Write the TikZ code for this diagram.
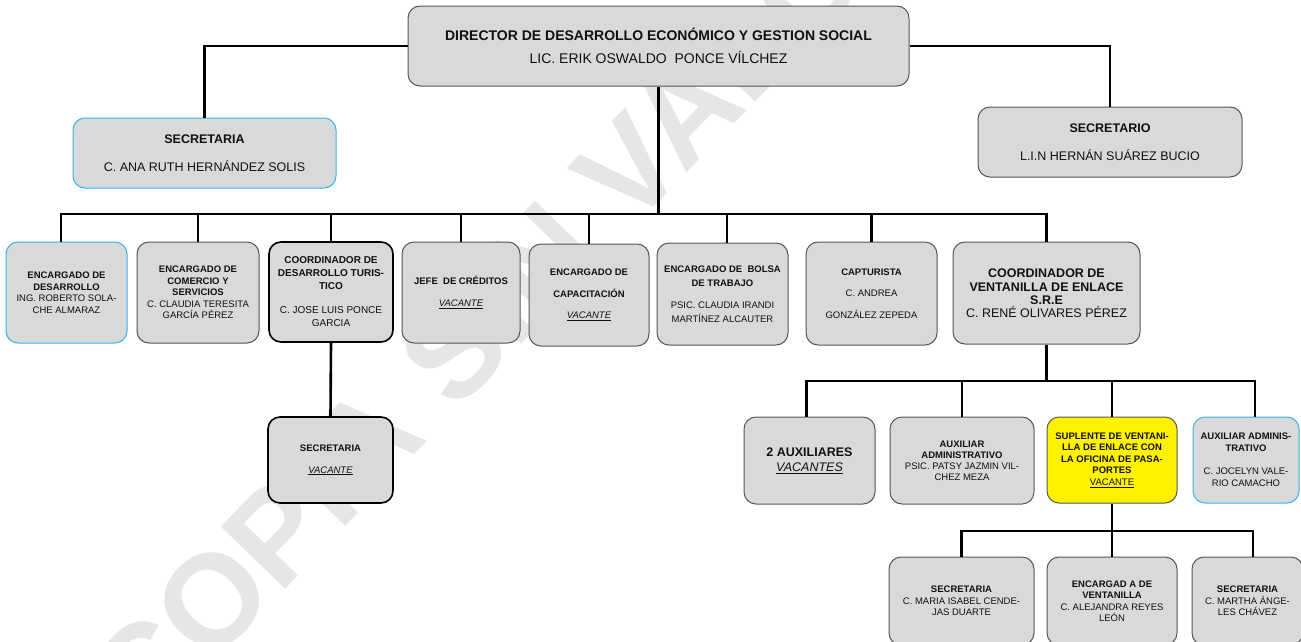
\documentclass[tikz,border=0pt]{standalone}
\usepackage{fontspec}
\setmainfont{Liberation Sans}
\definecolor{boxfill}{HTML}{D9D9D9}
\definecolor{boxline}{HTML}{555555}
\definecolor{bluebd}{HTML}{33B5E8}
\definecolor{wmark}{HTML}{E6E6E6}
\definecolor{txt}{HTML}{111111}
\newcommand{\fSm}{\fontsize{9.5}{11.5}\selectfont}
\newcommand{\fMd}{\fontsize{12.5}{14.5}\selectfont}
\newcommand{\vac}{\underline{\textit{VACANTE}}}
\newcommand{\tb}[1]{\textbf{#1}}
\tikzset{
  box/.style={draw=boxline, line width=1pt, fill=boxfill, rounded corners=12pt,
    align=center, inner sep=1pt, text=txt, font=\fSm},
  bluebox/.style={box, draw=bluebd},
  darkbox/.style={box, draw=black, line width=1.6pt},
  yelbox/.style={box, fill=yellow},
  conn/.style={line width=2.6pt, draw=black},
}
\begin{document}
\begin{tikzpicture}[x=1pt,y=-1pt]
\useasboundingbox (0,0) rectangle (1301,641);
% watermark
\node[text=wmark, rotate=46, font=\fontsize{130}{130}\selectfont\bfseries] (wm) at (510,292) {COPIA SIN VALOR};

% top
\node[box, minimum width=501, minimum height=80, font=\fontsize{14}{16}\selectfont] (top) at (658.5,46)
  {\tb{DIRECTOR DE DESARROLLO ECONÓMICO Y GESTION SOCIAL}\\[7pt]
   LIC. ERIK OSWALDO\ \ PONCE VÍLCHEZ};
\node[bluebox, minimum width=263, minimum height=70, font=\fMd] (sec1) at (204.5,153)
  {\tb{SECRETARIA}\\[14pt]C. ANA RUTH HERNÁNDEZ SOLIS};
\node[box, minimum width=264, minimum height=70, font=\fMd] (sec2) at (1110,142)
  {\tb{SECRETARIO}\\[13pt]L.I.N HERNÁN SUÁREZ BUCIO};

% row 1
\node[bluebox, minimum width=121, minimum height=101] (b1) at (66.5,292.5)
  {\tb{ENCARGADO DE}\\\tb{DESARROLLO}\\ING. ROBERTO SOLA-\\CHE ALMARAZ};
\node[box, minimum width=122, minimum height=101] (b2) at (198,292.5)
  {\tb{ENCARGADO DE}\\\tb{COMERCIO Y}\\\tb{SERVICIOS}\\C. CLAUDIA TERESITA\\GARCÍA PÉREZ};
\node[darkbox, minimum width=124, minimum height=100, font=\fontsize{10}{13}\selectfont] (b3) at (331,292)
  {\tb{COORDINADOR DE}\\\tb{DESARROLLO TURIS-}\\\tb{TICO}\\[11pt]C. JOSE LUIS PONCE\\GARCIA};
\node[box, minimum width=118, minimum height=101] (b4) at (461,292.5)
  {\tb{JEFE\ \ DE CRÉDITOS}\\[10pt]\vac};
\node[box, minimum width=120, minimum height=102] (b5) at (589,295)
  {\tb{ENCARGADO DE}\\[10pt]\tb{CAPACITACIÓN}\\[10pt]\vac};
\node[box, minimum width=131, minimum height=102, font=\fontsize{9.5}{14}\selectfont] (b6) at (722.5,294)
  {\tb{ENCARGADO DE\ \ BOLSA}\\\tb{DE TRABAJO}\\[8pt]PSIC. CLAUDIA IRANDI\\MARTÍNEZ ALCAUTER};
\node[box, minimum width=131, minimum height=103] (b7) at (871.5,293.5)
  {\tb{CAPTURISTA}\\[10pt]C. ANDREA\\[10pt]GONZÁLEZ ZEPEDA};
\node[box, minimum width=187, minimum height=102, font=\fontsize{12.5}{13.5}\selectfont] (b8) at (1046.5,293)
  {\tb{COORDINADOR DE}\\\tb{VENTANILLA DE ENLACE}\\\tb{S.R.E}\\[-1pt]C. RENÉ OLIVARES PÉREZ};

% under coordinador turistico
\node[darkbox, minimum width=125, minimum height=86] (sv) at (330.5,460)
  {\tb{SECRETARIA}\\[10pt]\vac};

% row 2
\node[box, minimum width=131, minimum height=87, font=\fontsize{12.5}{15}\selectfont] (ra) at (809.5,460.5)
  {\tb{2 AUXILIARES}\\\underline{\textit{VACANTES}}};
\node[box, minimum width=144, minimum height=87, font=\fontsize{9.5}{11}\selectfont] (rb) at (962,460.5)
  {\tb{AUXILIAR}\\\tb{ADMINISTRATIVO}\\PSIC. PATSY JAZMIN VIL-\\CHEZ MEZA};
\node[yelbox, minimum width=130, minimum height=86] (rc) at (1112,460)
  {\tb{SUPLENTE DE VENTANI-}\\\tb{LLA DE ENLACE CON}\\\tb{LA OFICINA DE PASA-}\\\tb{PORTES}\\\underline{VACANTE}};
\node[bluebox, minimum width=106, minimum height=86, font=\fontsize{9.5}{12}\selectfont] (rd) at (1246,460)
  {\tb{AUXILIAR ADMINIS-}\\\tb{TRATIVO}\\[11pt]C. JOCELYN VALE-\\RIO CAMACHO};

% row 3
\node[box, minimum width=145, minimum height=88] (e1) at (961.5,601)
  {\tb{SECRETARIA}\\C. MARIA ISABEL CENDE-\\JAS DUARTE};
\node[box, minimum width=130, minimum height=88] (e2) at (1112,601)
  {\tb{ENCARGAD A DE}\\\tb{VENTANILLA}\\C. ALEJANDRA REYES\\LEÓN};
\node[box, minimum width=111, minimum height=88] (e3) at (1247.5,601)
  {\tb{SECRETARIA}\\C. MARTHA ÁNGE-\\LES CHÁVEZ};

% connectors
\coordinate (bus) at (656,214);
\coordinate (bus2) at (1046,381);
\coordinate (bus3) at (1111,531);
\draw[conn] (top.west) -| (sec1.north);
\draw[conn] (top.east) -| (sec2.north);
\draw[conn] (top.south) -- (top.south |- bus);
\draw[conn] ([xshift=-5.5pt]b1.north) |- (bus) -| (b8.north);
\foreach \n in {b2,b3,b4,b5,b7}
  \draw[conn] (\n.north) -- (\n.north |- bus);
\draw[conn] ([xshift=4.5pt]b6.north) -- ([xshift=4.5pt]b6.north |- bus);
\draw[conn] (b3.south) -- (sv.north);
\draw[conn] (b8.south) -- (b8.south |- bus2);
\draw[conn] ([xshift=-3pt]ra.north) |- (bus2) -| ([xshift=9pt]rd.north);
\draw[conn] (rb.north) -- (rb.north |- bus2);
\draw[conn] (rc.north) -- (rc.north |- bus2);
\draw[conn] (rc.south) -- (rc.south |- bus3);
\draw[conn] (e1.north) |- (bus3) -| ([xshift=5.5pt]e3.north);
\draw[conn] (e2.north) -- (e2.north |- bus3);
\end{tikzpicture}
\end{document}
